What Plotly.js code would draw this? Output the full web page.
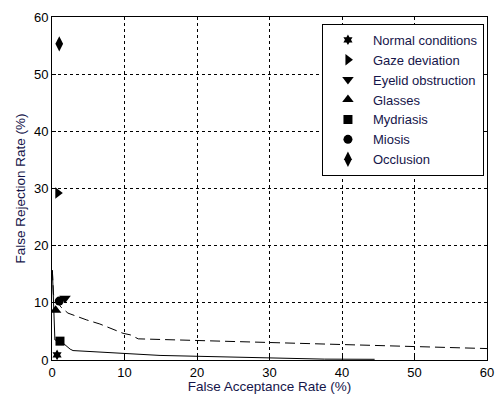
<!DOCTYPE html>
<html>
<head>
<meta charset="utf-8">
<script src="https://cdn.plot.ly/plotly-3.0.1.min.js"></script>
<style>html,body{margin:0;padding:0;background:#fff;}#chart{width:495px;height:394px;}</style>
</head>
<body>
<div id="chart"></div>
<script>
// Curves (False Acceptance Rate %, False Rejection Rate %)
const solidFAR = [0.05, 0.15, 0.2, 0.4, 1.2, 2.5, 2.9, 6.6, 9.8, 14.9, 20, 31, 37.6, 44.5];
const solidFRR = [15.7, 12, 8.2, 3.5, 3.3, 1.9, 1.65, 1.35, 1.16, 0.8, 0.65, 0.3, 0.15, 0.12];
const dashFAR = [0.05, 0.2, 1.2, 2.2, 4.8, 6.6, 9.8, 10.8, 11.9, 14.9, 20.4, 31, 39.7, 49.8, 59.5, 60];
const dashFRR = [15.7, 11.5, 9.3, 8.2, 7.0, 6.3, 4.67, 4.4, 3.7, 3.6, 3.4, 3.0, 2.7, 2.45, 2.0, 2.0];

// Operating points per condition
const conditions = ["Normal conditions", "Gaze deviation", "Eyelid obstruction", "Glasses", "Mydriasis", "Miosis", "Occlusion"];
const condFAR = [0.7, 0.8, 1.8, 0.5, 1.1, 1.0, 1.0];
const condFRR = [0.9, 29.2, 10.8, 8.7, 3.3, 10.3, 55.3];
const symbols = ["hexagram", "triangle-right", "triangle-down", "triangle-up", "square", "circle", "diamond-tall"];
const sizes = [8, 10, 10, 10, 9, 9, 11];

const xTicks = [0, 10, 20, 30, 40, 50, 60];
const yTicks = [0, 10, 20, 30, 40, 50, 60];

const traces = [
  {x: solidFAR, y: solidFRR, mode: 'lines', line: {color: '#000', width: 1}, showlegend: false, hoverinfo: 'skip'},
  {x: dashFAR, y: dashFRR, mode: 'lines', line: {color: '#000', width: 1, dash: '10px,5px'}, showlegend: false, hoverinfo: 'skip'}
];
conditions.forEach((c, i) => {
  traces.push({x: [condFAR[i]], y: [condFRR[i]], mode: 'markers', name: c,
    marker: {symbol: symbols[i], size: sizes[i], color: '#000', line: {width: 0}}});
});

const FONT = 'Liberation Sans, Arial, sans-serif';
const axisCommon = {
  range: [0, 60], showline: true, mirror: true, linecolor: '#000', linewidth: 1,
  showgrid: true, gridcolor: '#000', gridwidth: 1, griddash: '3px,3px',
  zeroline: false, ticks: 'inside', ticklen: 4, tickcolor: '#000',
  tickfont: {family: FONT, size: 13, color: '#000'},
  automargin: false
};

const layout = {
  width: 495, height: 394,
  margin: {l: 52, r: 8, t: 17, b: 34},
  paper_bgcolor: '#fff', plot_bgcolor: '#fff',
  font: {family: FONT, size: 13, color: '#15154a'},
  xaxis: Object.assign({}, axisCommon, {tickvals: xTicks, ticktext: xTicks.map(String),
    title: {text: 'False Acceptance Rate (%)', standoff: 1, font: {size: 13.5, color: '#15154a'}}}),
  yaxis: Object.assign({}, axisCommon, {tickvals: yTicks, ticktext: yTicks.map(String),
    title: {text: 'False Rejection Rate (%)', standoff: 5, font: {size: 13.5, color: '#15154a'}}}),
  legend: {x: 0.993, y: 0.98, xanchor: 'right', yanchor: 'top', bgcolor: '#fff',
    bordercolor: '#000', borderwidth: 1, tracegroupgap: 0, itemwidth: 40,
    font: {family: FONT, size: 13, color: '#15154a'}},
  showlegend: true
};

Plotly.newPlot('chart', traces, layout, {displayModeBar: false, staticPlot: true});
</script>
</body>
</html>
